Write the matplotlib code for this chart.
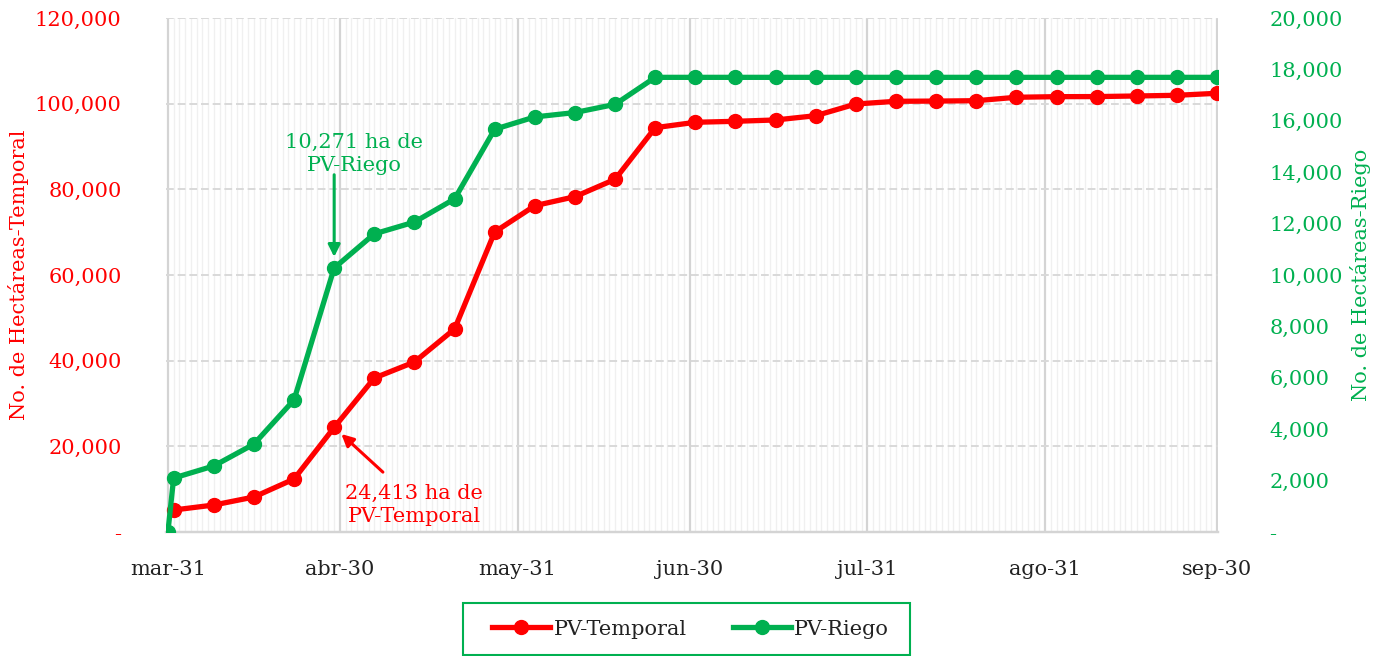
import numpy as np
import pandas as pd
import matplotlib.pyplot as plt
import matplotlib as mpl
import matplotlib.dates as mdates
from matplotlib.patches import Rectangle
from matplotlib.ticker import FuncFormatter, MultipleLocator

mpl.rc('font', family='DejaVu Serif', size=15)

RED = "#FF0000"
GREEN = "#00B050"

# weekly cut-off dates (apr-01 .. sep-30)
dates_temporal = pd.date_range("2023-04-01", "2023-09-30", freq="7D")
temporal = [5136, 6300, 8170, 12370, 24413, 35950, 39690, 47390, 70040,
            76180, 78280, 82340, 94390, 95650, 95880, 96190, 97190, 99920,
            100550, 100600, 100690, 101490, 101630, 101650, 101790, 101950,
            102420]

dates_riego = [pd.Timestamp("2023-03-31")] + list(dates_temporal)
riego = [0, 2100, 2570, 3420, 5140, 10271, 11600, 12060, 12960, 15670,
         16150, 16320, 16640, 17690, 17690, 17690, 17690, 17690, 17690,
         17690, 17690, 17690, 17690, 17690, 17690, 17690, 17690, 17690]

month_ticks = pd.to_datetime(["2023-03-31", "2023-04-30", "2023-05-31",
                              "2023-06-30", "2023-07-31", "2023-08-31",
                              "2023-09-30"])
month_labels = ["mar-31", "abr-30", "may-31", "jun-30", "jul-31", "ago-31", "sep-30"]


def accounting(v, pos):
    if abs(v) < 1e-9:
        return "-"
    return f"{v:,.0f}"


fig = plt.figure(figsize=(13.81, 6.56), dpi=100)
ax = fig.add_axes([0.1202, 0.189, 0.7618, 0.7836])
ax2 = ax.twinx()

# daily minor grid + monthly major grid
ax.set_xlim(month_ticks[0] - pd.Timedelta(hours=8), month_ticks[-1] + pd.Timedelta(hours=4))
ax.set_xticks(month_ticks)
ax.set_xticklabels(month_labels, color="#222222")
ax.xaxis.set_minor_locator(mdates.DayLocator())
ax.grid(axis="x", which="minor", color="#F0F0F0", lw=1.0)
ax.grid(axis="x", which="major", color="#D4D4D4", lw=1.6)
ax.grid(axis="y", which="major", color="#D9D9D9", lw=1.4, ls=(0, (4, 2)))
ax.set_axisbelow(True)
ax.tick_params(axis="x", which="both", length=0, pad=20)

ax.set_ylim(0, 120000)
ax.yaxis.set_major_locator(MultipleLocator(20000))
ax.yaxis.set_major_formatter(FuncFormatter(accounting))
ax.tick_params(axis="y", length=0, pad=32, colors=RED)
ax.set_ylabel("No. de Hectáreas-Temporal", color=RED, labelpad=4)

ax2.set_ylim(0, 20000)
ax2.yaxis.set_major_locator(MultipleLocator(2000))
ax2.yaxis.set_major_formatter(FuncFormatter(accounting))
ax2.tick_params(axis="y", length=0, pad=37, colors=GREEN)
ax2.set_ylabel("No. de Hectáreas-Riego", color=GREEN, labelpad=5)

for a in (ax, ax2):
    for s in ("top", "left", "right"):
        a.spines[s].set_visible(False)
    a.spines["bottom"].set_color("#D4D4D4")
    a.spines["bottom"].set_linewidth(1.6)

l1, = ax2.plot(dates_temporal, np.array(temporal) / 6, color=RED, lw=3.8,
               marker="o", ms=10, label="PV-Temporal", zorder=3)
l2, = ax2.plot(dates_riego, riego, color=GREEN, lw=3.8,
               marker="o", ms=10, label="PV-Riego", zorder=4)

# annotations
d_r = dates_riego[5]
ax2.text(d_r + pd.Timedelta(days=3.5), 13900, "10,271 ha de\nPV-Riego",
         color=GREEN, ha="center", va="bottom", fontsize=15, linespacing=1.25)
ax2.annotate("", xy=(d_r, riego[5]), xytext=(d_r, 13900),
             arrowprops=dict(arrowstyle="-|>", color=GREEN, lw=2.2,
                             mutation_scale=18, shrinkA=0, shrinkB=8))

d_t = dates_temporal[4]
ax2.text(d_t + pd.Timedelta(days=14), 230, "24,413 ha de\nPV-Temporal",
         color=RED, ha="center", va="bottom", fontsize=15, linespacing=1.25)
ax2.annotate("", xy=(d_t, temporal[4] / 6), xytext=(d_t + pd.Timedelta(days=8.5), 2330),
             arrowprops=dict(arrowstyle="-|>", color=RED, lw=2.2,
                             mutation_scale=18, shrinkA=0, shrinkB=7))

leg = fig.legend(handles=[l1, l2], loc="center", bbox_to_anchor=(0.5, 0.041),
                 ncol=2, frameon=False, fontsize=15,
                 handlelength=2.8, handletextpad=0.15, columnspacing=2.2,
                 borderaxespad=0)
for t in leg.get_texts():
    t.set_color("#222222")

# legend box (Excel style, wider than its content)
fig.patches.append(Rectangle((463 / 1381, 1 - 655 / 656), 447 / 1381, 52 / 656,
                             transform=fig.transFigure, fill=False,
                             edgecolor=GREEN, lw=1.5))

fig.savefig("out.png", dpi=100)
